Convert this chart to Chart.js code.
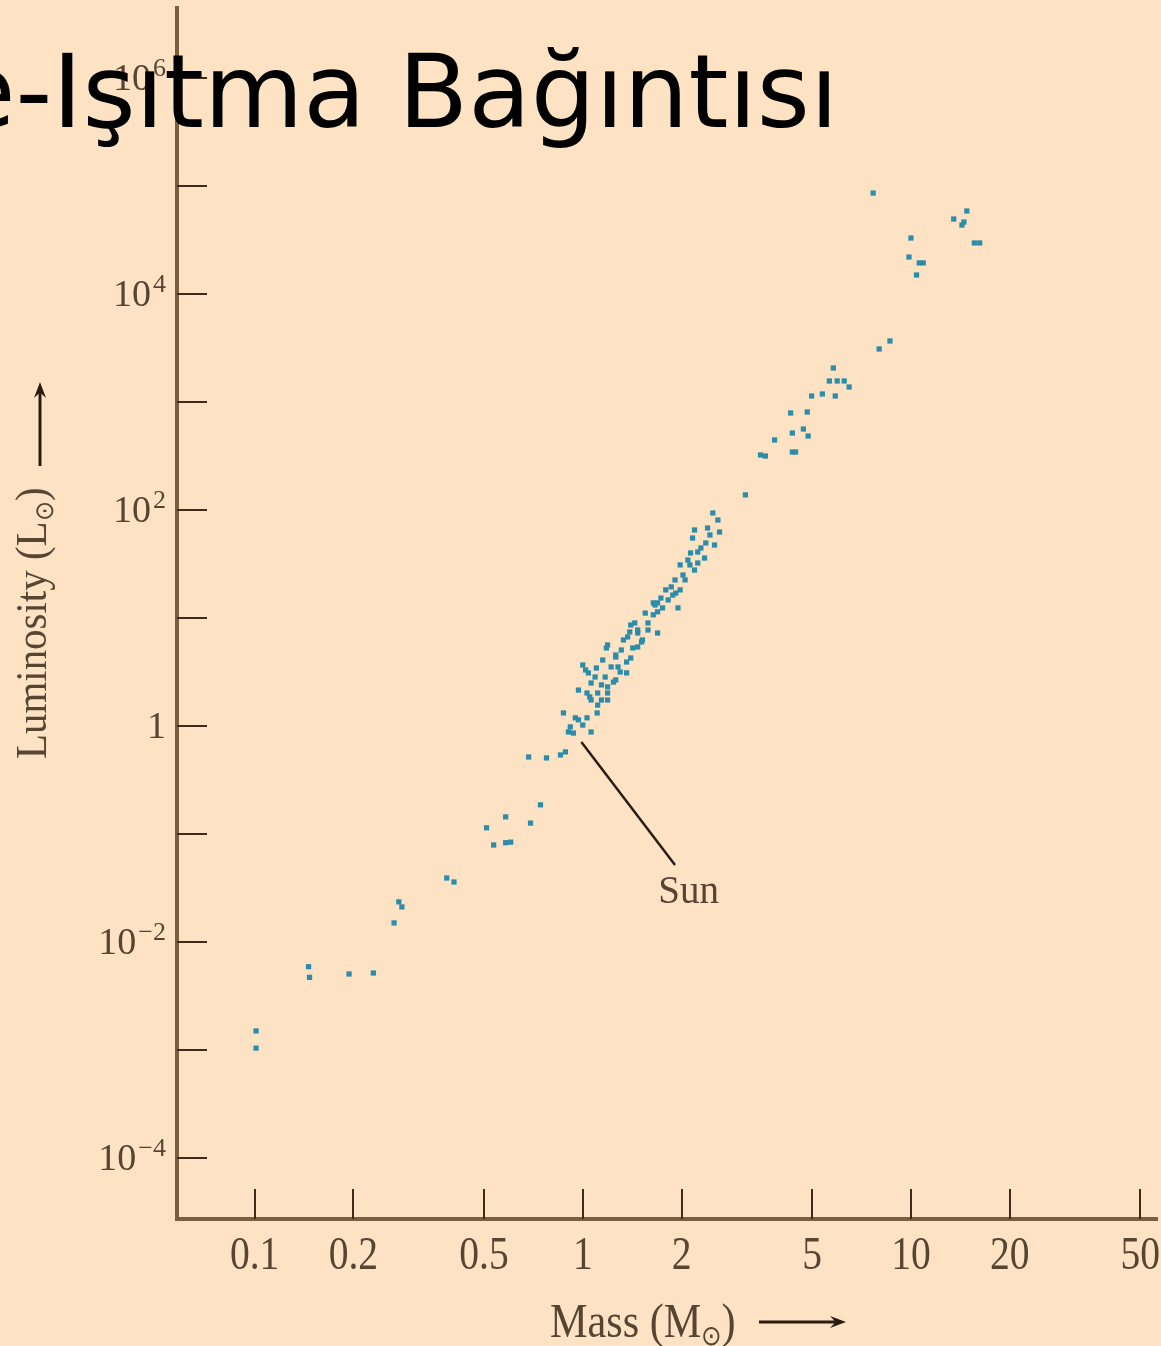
<!DOCTYPE html>
<html>
<head>
<meta charset="utf-8">
<script src="https://cdn.jsdelivr.net/npm/chart.js@4"></script>
<style>
  html, body { margin: 0; padding: 0; background: #fde3c3; overflow: hidden; }
  canvas { display: block; }
</style>
</head>
<body>
<canvas id="mlChart" width="1161" height="1346"></canvas>
<script>
// Kütle (güneş kütlesi cinsinden) ve ışıtma (güneş ışıtması cinsinden)
const masses = [
  0.101, 0.101, 0.146, 0.147, 0.194, 0.230, 0.266, 0.275, 0.281, 0.385, 0.405,
  0.509, 0.535, 0.582, 0.603, 0.582, 0.693, 0.743, 0.684, 0.775, 0.855, 0.885,
  0.873, 0.949, 0.916, 1.00, 1.06, 0.936, 1.106, 0.904,
  1.02, 1.00, 1.04, 1.09, 1.17, 1.06, 1.14, 1.24, 1.03, 1.11, 1.19, 1.06, 1.19, 1.19,
  1.26, 1.22, 1.30, 1.36, 1.26, 1.36, 1.18, 1.31, 1.42, 1.40, 1.19, 1.51, 1.37, 1.47,
  1.52, 1.47, 1.69, 1.44, 1.58, 1.55, 1.69, 1.66, 1.95, 1.73, 1.82, 1.86, 1.98, 1.91,
  2.05, 1.98, 2.12, 2.24, 2.19, 2.13, 2.24, 2.35, 2.37, 2.52, 2.16, 2.19, 2.40, 2.61,
  2.58, 2.49, 1.64, 1.92, 1.40, 1.28, 1.05, 1.47, 1.69,
  1.11, 1.15, 1.26, 1.33, 1.58, 1.64, 1.75, 1.88, 2.02, 2.09, 2.29, 2.44, 1.10, 0.97,
  1.14, 1.39, 1.79, 0.97, 1.03,
  3.13, 3.48, 3.60, 3.84, 4.35, 4.45, 4.35, 4.70, 4.86, 4.30, 4.83, 4.98, 5.37, 5.88,
  5.64, 5.96, 6.26, 6.48, 5.80, 8.00, 8.63,
  7.67, 10.0, 9.86, 10.6, 10.9, 10.4, 13.5, 14.3, 14.8, 14.5, 15.6, 16.2
];
const luminosities = [
  1.50e-3, 1.04e-3, 5.9e-3, 4.7e-3, 5.05e-3, 5.16e-3, 0.0150, 0.0235, 0.0211, 0.0391, 0.0359,
  0.114, 0.079, 0.083, 0.084, 0.144, 0.126, 0.186, 0.516, 0.506, 0.539, 0.575,
  1.32, 1.19, 0.98, 1.02, 0.88, 0.86, 1.32, 0.88,
  3.30, 3.67, 3.10, 2.84, 2.84, 2.50, 2.40, 2.55, 2.02, 2.02, 2.02, 1.74, 1.74, 2.30,
  2.67, 3.52, 3.16, 3.10, 4.35, 3.91, 5.28, 5.05, 5.28, 4.26, 5.62, 6.00, 6.67, 5.39,
  6.26, 7.74, 7.26, 8.99, 8.99, 11.1, 11.4, 13.2, 12.4, 15.3, 14.7, 19.4, 18.2, 22.5,
  22.5, 31.0, 31.0, 32.3, 27.8, 40.0, 40.8, 35.9, 49.5, 47.4, 55.0, 65.3, 68.1, 62.5,
  80.8, 93.8, 13.8, 17.0, 8.61, 3.52, 1.86, 7.26, 13.8,
  1.56, 4.08, 4.54, 6.26, 7.74, 10.7, 12.4, 16.3, 25.0, 34.4, 44.5, 58.7, 3.44, 2.15,
  1.74, 7.42, 18.2, 1.14, 1.19,
  138, 323, 316, 445, 344, 344, 516, 562, 484, 791, 808, 1136, 1186, 1136,
  1565, 1565, 1565, 1377, 2065, 3097, 3672,
  86100, 33000, 22000, 19400, 19400, 15000, 49500, 43500, 58700, 46400, 29700, 29700
];

// Eksen işaretleri
const xTicks = [0.1, 0.2, 0.5, 1, 2, 5, 10, 20, 50];
const xTickLabels = ['0.1', '0.2', '0.5', '1', '2', '5', '10', '20', '50'];
const yTicks = [1e-4, 1e-3, 1e-2, 1e-1, 1, 10, 100, 1e3, 1e4, 1e5, 1e6];
const yTickLabels = [['10', '−4'], null, ['10', '−2'], null, ['1', ''], null,
                     ['10', '2'], null, ['10', '4'], null, ['10', '6']];

// Güneş notu: çizgi başı, çizgi sonu, yazı yeri (kütle, ışıtma)
const sunNote = [[0.99, 0.71], [1.91, 0.0516], [2.10, 0.023]];

const serif = '"Liberation Serif", "Times New Roman", serif';
const textColor = '#564533';

// Arka plan, içe dönük çentikler, etiketler ve başlık
const decorPlugin = {
  id: 'decor',
  beforeDraw(chart) {
    const ctx = chart.ctx;
    ctx.save();
    ctx.fillStyle = '#fde3c3';
    ctx.fillRect(0, 0, chart.width, chart.height);
    ctx.restore();
  },
  afterDraw(chart) {
    const { ctx, scales: { x, y } } = chart;
    ctx.save();

    // çentikler
    ctx.strokeStyle = '#3e2c1b';
    ctx.lineWidth = 2;
    y.ticks.forEach(t => {
      const py = Math.round(y.getPixelForValue(t.value));
      ctx.beginPath();
      ctx.moveTo(x.left, py);
      ctx.lineTo(x.left + 30, py);
      ctx.stroke();
    });
    x.ticks.forEach(t => {
      const px = Math.round(x.getPixelForValue(t.value));
      ctx.beginPath();
      ctx.moveTo(px, y.bottom);
      ctx.lineTo(px, y.bottom - 30);
      ctx.stroke();
    });

    // y etiketleri (üslü)
    ctx.fillStyle = textColor;
    ctx.textAlign = 'right';
    ctx.textBaseline = 'alphabetic';
    yTickLabels.forEach((lab, i) => {
      if (!lab) return;
      const py = y.getPixelForValue(yTicks[i]);
      const right = 166;
      ctx.font = '26px ' + serif;
      const ew = lab[1] ? ctx.measureText(lab[1]).width + 2 : 0;
      if (lab[1]) ctx.fillText(lab[1], right, py - 2);
      ctx.font = '38px ' + serif;
      ctx.fillText(lab[0], right - ew, py + 12);
    });

    // x etiketleri
    ctx.textAlign = 'center';
    ctx.font = '46px ' + serif;
    xTickLabels.forEach((lab, i) => {
      const px = x.getPixelForValue(xTicks[i]);
      ctx.save();
      ctx.translate(px, 1269);
      ctx.scale(0.86, 1);
      ctx.fillText(lab, 0, 0);
      ctx.restore();
    });

    // x ekseni başlığı
    ctx.save();
    ctx.translate(550, 1337);
    ctx.scale(0.88, 1);
    ctx.textAlign = 'left';
    ctx.font = '48px ' + serif;
    ctx.fillText('Mass (M', 0, 0);
    let w = ctx.measureText('Mass (M').width;
    ctx.font = '28px ' + serif;
    ctx.fillText('⊙', w, 8);
    w += ctx.measureText('⊙').width;
    ctx.font = '48px ' + serif;
    ctx.fillText(')', w, 0);
    ctx.restore();
    drawArrow(ctx, 759, 1322, 846, 1322);

    // y ekseni başlığı
    ctx.save();
    ctx.translate(46, 759);
    ctx.rotate(-Math.PI / 2);
    ctx.scale(0.93, 1);
    ctx.textAlign = 'left';
    ctx.font = '44px ' + serif;
    ctx.fillText('Luminosity (L', 0, 0);
    let wy = ctx.measureText('Luminosity (L').width;
    ctx.font = '26px ' + serif;
    ctx.fillText('⊙', wy, 7);
    wy += ctx.measureText('⊙').width;
    ctx.font = '44px ' + serif;
    ctx.fillText(')', wy, 0);
    ctx.restore();
    drawArrow(ctx, 40, 466, 40, 382);

    // Güneş notu
    const p0 = [x.getPixelForValue(sunNote[0][0]), y.getPixelForValue(sunNote[0][1])];
    const p1 = [x.getPixelForValue(sunNote[1][0]), y.getPixelForValue(sunNote[1][1])];
    ctx.strokeStyle = '#2a1c10';
    ctx.lineWidth = 2.5;
    ctx.beginPath();
    ctx.moveTo(p0[0], p0[1]);
    ctx.lineTo(p1[0], p1[1]);
    ctx.stroke();
    ctx.fillStyle = textColor;
    ctx.textAlign = 'center';
    ctx.font = '39px ' + serif;
    ctx.fillText('Sun', x.getPixelForValue(sunNote[2][0]), y.getPixelForValue(sunNote[2][1]));

    // başlık (slayttan, solda kesik)
    ctx.fillStyle = '#000';
    ctx.textAlign = 'left';
    ctx.font = '102px "DejaVu Sans", Verdana, sans-serif';
    ctx.fillText('Kütle-Işıtma Bağıntısı', -242, 127);

    ctx.restore();
  }
};

function drawArrow(ctx, x0, y0, x1, y1) {
  const ang = Math.atan2(y1 - y0, x1 - x0);
  const head = 16;
  ctx.save();
  ctx.strokeStyle = '#2a1c10';
  ctx.fillStyle = '#2a1c10';
  ctx.lineWidth = 3;
  ctx.beginPath();
  ctx.moveTo(x0, y0);
  ctx.lineTo(x1 - Math.cos(ang) * head * 0.6, y1 - Math.sin(ang) * head * 0.6);
  ctx.stroke();
  ctx.beginPath();
  ctx.moveTo(x1, y1);
  ctx.lineTo(x1 - head * Math.cos(ang) + 6 * Math.sin(ang), y1 - head * Math.sin(ang) - 6 * Math.cos(ang));
  ctx.lineTo(x1 - head * 0.65 * Math.cos(ang), y1 - head * 0.65 * Math.sin(ang));
  ctx.lineTo(x1 - head * Math.cos(ang) - 6 * Math.sin(ang), y1 - head * Math.sin(ang) + 6 * Math.cos(ang));
  ctx.closePath();
  ctx.fill();
  ctx.restore();
}

const points = masses.map((m, i) => ({ x: m, y: luminosities[i] }));

new Chart(document.getElementById('mlChart'), {
  type: 'scatter',
  data: {
    datasets: [{
      label: 'Stars',
      data: points,
      pointStyle: 'rect',
      pointRadius: 3.7,
      borderWidth: 0,
      backgroundColor: '#2b8cab'
    }]
  },
  options: {
    responsive: false,
    animation: false,
    events: [],
    layout: { padding: { top: 8, right: 0, bottom: 0, left: 0 } },
    plugins: { legend: { display: false }, tooltip: { enabled: false } },
    scales: {
      x: {
        type: 'logarithmic',
        min: 0.058,
        max: 56.2,
        bounds: 'data',
        grid: { display: false },
        border: { display: true, color: '#7b5e40', width: 4 },
        ticks: { display: false },
        afterBuildTicks: s => { s.ticks = xTicks.map(v => ({ value: v })); },
        afterFit: s => { s.height = 127; }
      },
      y: {
        type: 'logarithmic',
        min: 2.72e-5,
        max: 4.45e6,
        bounds: 'data',
        grid: { display: false },
        border: { display: true, color: '#7b5e40', width: 4 },
        ticks: { display: false },
        afterBuildTicks: s => { s.ticks = yTicks.map(v => ({ value: v })); },
        afterFit: s => { s.width = 177; }
      }
    }
  },
  plugins: [decorPlugin]
});
</script>
</body>
</html>
